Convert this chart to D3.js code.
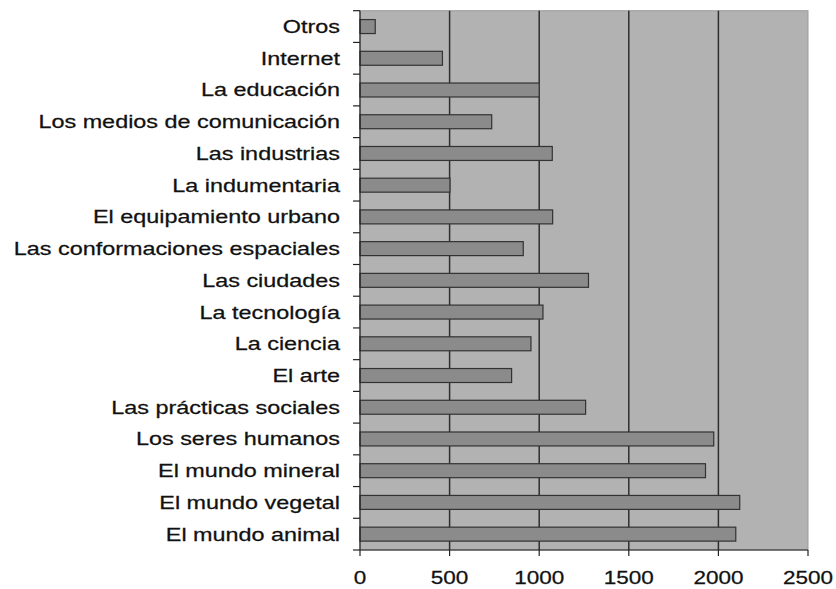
<!DOCTYPE html>
<html>
<head>
<meta charset="utf-8">
<script src="https://cdn.jsdelivr.net/npm/d3@7"></script>
<style>
  html, body { margin: 0; padding: 0; background: #ffffff; }
  svg { display: block; }
</style>
</head>
<body>
<svg id="chart" width="836" height="589"></svg>
<script>
const categories = [
  "Otros",
  "Internet",
  "La educación",
  "Los medios de comunicación",
  "Las industrias",
  "La indumentaria",
  "El equipamiento urbano",
  "Las conformaciones espaciales",
  "Las ciudades",
  "La tecnología",
  "La ciencia",
  "El arte",
  "Las prácticas sociales",
  "Los seres humanos",
  "El mundo mineral",
  "El mundo vegetal",
  "El mundo animal"
];
const values = [85, 460, 1000, 735, 1073, 502, 1075, 911, 1275, 1021, 954, 846, 1259, 1974, 1928, 2119, 2097];
const xTicks = [0, 500, 1000, 1500, 2000, 2500];

const W = 836, H = 589;
const margin = { top: 10.7, right: 28, bottom: 39, left: 360 };
const iw = W - margin.left - margin.right;
const ih = H - margin.top - margin.bottom;

const svg = d3.select("#chart");
const g = svg.append("g").attr("transform", `translate(${margin.left},${margin.top})`);

const x = d3.scaleLinear().domain([0, 2500]).range([0, iw]);
const y = d3.scaleBand().domain(categories).range([0, ih]).paddingInner(0.56).paddingOuter(0.28);

// plot background
g.append("rect")
  .attr("x", 0).attr("y", 0).attr("width", iw).attr("height", ih)
  .attr("fill", "#b2b2b2")
  .attr("stroke", "#9c9c9c").attr("stroke-width", 1);

// gridlines
g.selectAll("line.grid").data(xTicks.filter(d => d > 0 && d < 2500)).enter()
  .append("line").attr("class", "grid")
  .attr("x1", d => x(d)).attr("x2", d => x(d))
  .attr("y1", 0).attr("y2", ih)
  .attr("stroke", "#2e2e2e").attr("stroke-width", 1.5);

// bars
g.selectAll("rect.bar").data(values).enter()
  .append("rect").attr("class", "bar")
  .attr("x", x(0))
  .attr("y", (d, i) => y(categories[i]))
  .attr("width", d => x(d) - x(0))
  .attr("height", y.bandwidth())
  .attr("fill", "#8b8b8b")
  .attr("stroke", "#333333").attr("stroke-width", 1.2);

// y axis line
g.append("line")
  .attr("x1", 0).attr("x2", 0).attr("y1", 0).attr("y2", ih)
  .attr("stroke", "#222").attr("stroke-width", 1.2);

// y ticks at band boundaries
const step = y.step();
const bounds = d3.range(categories.length + 1).map(i => i * step);
g.selectAll("line.ytick").data(bounds).enter()
  .append("line").attr("class", "ytick")
  .attr("x1", -7).attr("x2", 0)
  .attr("y1", d => d).attr("y2", d => d)
  .attr("stroke", "#222").attr("stroke-width", 1.2);

// y labels
g.selectAll("text.ylab").data(categories).enter()
  .append("text").attr("class", "ylab")
  .attr("transform", d => `translate(-20,${y(d) + y.bandwidth() / 2}) scale(1.3,1)`)
  .attr("dy", "0.36em")
  .attr("text-anchor", "end")
  .attr("font-family", "Liberation Sans, Arial, sans-serif")
  .attr("font-size", 18)
  .attr("fill", "#111")
  .attr("stroke", "#111").attr("stroke-width", 0.25)
  .text(d => d);

// x axis
g.append("line")
  .attr("x1", 0).attr("x2", iw).attr("y1", ih).attr("y2", ih)
  .attr("stroke", "#222").attr("stroke-width", 1.2);

g.selectAll("line.xtick").data(xTicks).enter()
  .append("line").attr("class", "xtick")
  .attr("x1", d => x(d)).attr("x2", d => x(d))
  .attr("y1", ih).attr("y2", ih + 6)
  .attr("stroke", "#222").attr("stroke-width", 1.2);

g.selectAll("text.xlab").data(xTicks).enter()
  .append("text").attr("class", "xlab")
  .attr("transform", d => `translate(${x(d)},${ih + 34}) scale(1.25,1)`)
  .attr("text-anchor", "middle")
  .attr("font-family", "Liberation Sans, Arial, sans-serif")
  .attr("font-size", 18)
  .attr("fill", "#111")
  .attr("stroke", "#111").attr("stroke-width", 0.25)
  .text(d => d);
</script>
</body>
</html>
